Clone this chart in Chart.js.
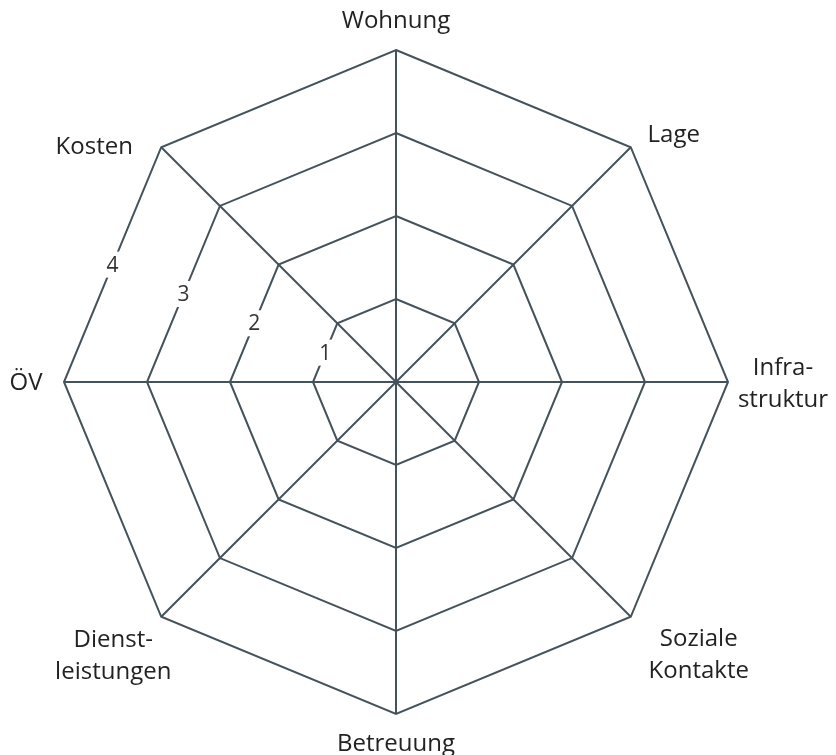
<!DOCTYPE html>
<html>
<head>
<meta charset="utf-8">
<script src="https://cdn.jsdelivr.net/npm/chart.js@4.4.1/dist/chart.umd.min.js"></script>
<style>
  html, body { margin: 0; padding: 0; background: #fff; }
  #wrap { width: 836px; height: 755px; }
</style>
</head>
<body>
<div id="wrap"><canvas id="netz"></canvas></div>
<script>
// Achsen des Netzdiagramms
const kategorien = [
  'Wohnung', 'Lage', ['Infra-', 'struktur'], ['Soziale', 'Kontakte'],
  'Betreuung', ['Dienst-', 'leistungen'], 'ÖV', 'Kosten'
];
// keine Werte eingetragen
const werte = [null, null, null, null, null, null, null, null];
// Skala
const skalaWerte = [1, 2, 3, 4];

// Versatz der Achsenbeschriftungen zur Ecke (Grundlinie erste Zeile)
const labelVersatz = [
  [0, -22], [43, -5], [55, -7], [68, 29],
  [0, 37], [-48, 30], [-38, 8], [-67, 7]
];

const linienFarbe = '#44525b';
const textFarbe = '#222';

// Beschriftungen selbst zeichnen (zentriert, mehrzeilig)
const beschriftungen = {
  id: 'beschriftungen',
  afterDraw(chart) {
    const scale = chart.scales.r;
    const ctx = chart.ctx;
    const max = skalaWerte[skalaWerte.length - 1];
    ctx.save();

    // Achsenbeschriftungen
    ctx.font = '24px "Open Sans"';
    ctx.fillStyle = textFarbe;
    ctx.textAlign = 'center';
    ctx.textBaseline = 'alphabetic';
    kategorien.forEach((lbl, i) => {
      const p = scale.getPointPositionForValue(i, max);
      const zeilen = Array.isArray(lbl) ? lbl : [lbl];
      zeilen.forEach((z, k) => {
        ctx.fillText(z, p.x + labelVersatz[i][0], p.y + labelVersatz[i][1] + k * 32);
      });
    });

    // Skalenwerte auf der Kante zwischen ÖV und Kosten
    ctx.font = '21px "Open Sans"';
    ctx.textBaseline = 'middle';
    skalaWerte.forEach(v => {
      const a = scale.getPointPositionForValue(6, v);
      const b = scale.getPointPositionForValue(7, v);
      const x = (a.x + b.x) / 2;
      const y = (a.y + b.y) / 2;
      const w = ctx.measureText(String(v)).width + 2;
      ctx.fillStyle = '#fff';
      ctx.fillRect(x - w / 2, y - 13, w, 26);
      ctx.fillStyle = '#333';
      ctx.fillText(String(v), x, y + 1);
    });
    ctx.restore();
  }
};

new Chart(document.getElementById('netz'), {
  type: 'radar',
  data: {
    labels: kategorien,
    datasets: [{
      label: 'Bewertung',
      data: werte,
      borderColor: linienFarbe,
      backgroundColor: 'transparent',
      pointRadius: 0
    }]
  },
  options: {
    responsive: true,
    maintainAspectRatio: false,
    animation: false,
    layout: { padding: { top: 50, bottom: 41, left: 64, right: 108 } },
    plugins: {
      legend: { display: false },
      tooltip: { enabled: false }
    },
    scales: {
      r: {
        min: 0,
        max: 4,
        ticks: { stepSize: 1, display: false },
        grid: { color: linienFarbe, lineWidth: 2 },
        angleLines: { color: linienFarbe, lineWidth: 2 },
        pointLabels: { display: false }
      }
    }
  },
  plugins: [beschriftungen]
});
</script>
</body>
</html>
